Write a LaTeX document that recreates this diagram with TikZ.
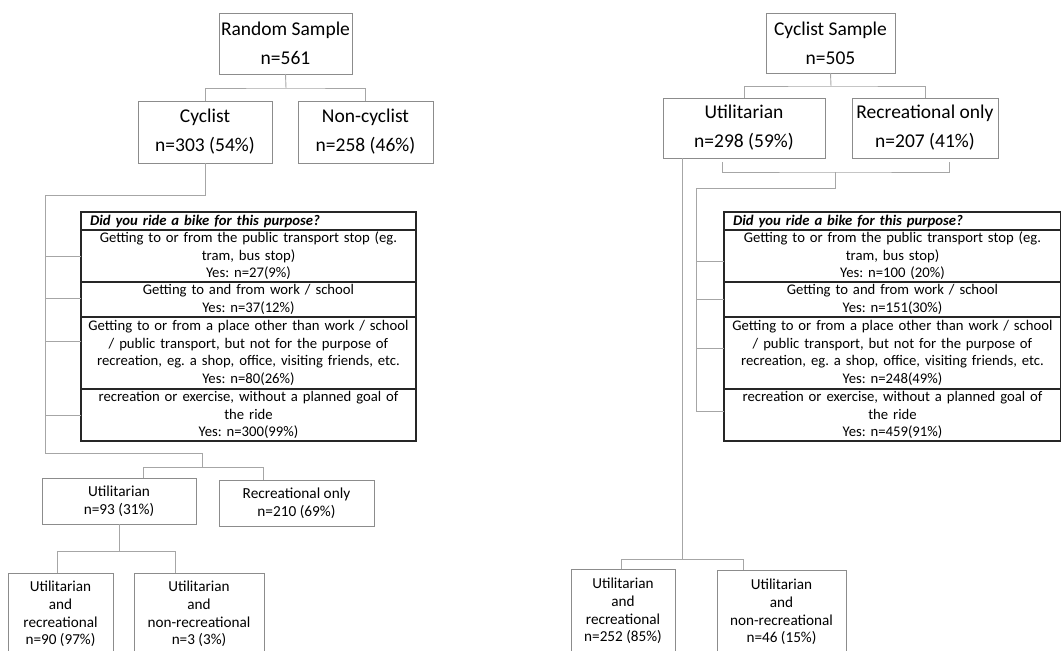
\documentclass[tikz,border=0pt]{standalone}
\usepackage{fontspec}
\setmainfont{Carlito}
\usetikzlibrary{positioning}
\frenchspacing
\tikzset{
    box/.style={rectangle, draw=black!45, line width=0.9pt, align=center, inner sep=0pt, outer sep=0pt},
    bigbox/.style={box, font=\fontsize{19.5}{29}\selectfont},
    smallbox/.style={box, font=\fontsize{15.3}{18}\selectfont},
    leafbox/.style={box, anchor=north, font=\fontsize{15.2}{17.7}\selectfont},
    cell/.style={rectangle, draw=black!85, line width=1.3pt, align=center, inner xsep=2pt, inner ysep=0pt, outer sep=0pt, minimum width=335pt, text width=331pt, font=\fontsize{14.7}{17.5}\selectfont},
    rcell/.style={cell, minimum width=337pt, text width=333pt},
    head/.style={align=left, minimum height=18pt, font=\fontsize{14.7}{17.5}\selectfont\bfseries\itshape},
    link/.style={draw=black!35, line width=0.9pt},
}

\begin{document}
\begin{tikzpicture}[x=1pt, y=-1pt]
    \useasboundingbox (0,0) rectangle (1061,651);
    \clip (0,0) rectangle (1061,651);

    % Random sample tree
    \node[bigbox, minimum width=133pt, minimum height=61pt] (rand) at (285.5,43.5) {Random Sample\\n=561};
    \node[bigbox, minimum width=134pt, minimum height=62pt] (cyc) at (205,132) {Cyclist\\n=303 (54\%)};
    \node[bigbox, minimum width=135pt, minimum height=62pt] (noncyc) at (365.5,132) {Non-cyclist\\n=258 (46\%)};

    % Purpose table (random sample)
    \node[cell, head, anchor=north west] (lq0) at (81,212) {\hspace*{7pt}Did you ride a bike for this purpose?};
    \node[cell, minimum height=52pt, below=0pt of lq0] (lq1) {Getting to or from the public transport stop (eg.\\tram, bus stop)\\Yes: n=27(9\%)};
    \node[cell, minimum height=35pt, below=0pt of lq1] (lq2) {Getting to and from work / school\\Yes: n=37(12\%)};
    \node[cell, minimum height=72pt, below=0pt of lq2] (lq3) {Getting to or from a place other than work / school\\/ public transport, but not for the purpose of\\recreation, eg. a shop, office, visiting friends, etc.\\Yes: n=80(26\%)};
    \node[cell, minimum height=52pt, below=0pt of lq3] (lq4) {recreation or exercise, without a planned goal of\\the ride\\Yes: n=300(99\%)};

    \node[smallbox, minimum width=154pt, minimum height=46pt] (luti) at (119,501) {Utilitarian\\n=93 (31\%)};
    \node[smallbox, minimum width=155pt, minimum height=46pt] (lrec) at (296.5,503) {Recreational only\\n=210 (69\%)};
    \node[leafbox, minimum width=105pt, minimum height=82pt] (lur) at (60.5,573) {Utilitarian\\and\\recreational\\n=90 (97\%)};
    \node[leafbox, minimum width=130pt, minimum height=82pt] (lnr) at (199,573) {Utilitarian\\and\\non-recreational\\n=3 (3\%)};

    % Cyclist sample tree
    \node[bigbox, minimum width=129pt, minimum height=60pt] (csamp) at (830.5,43) {Cyclist Sample\\n=505};
    \node[bigbox, minimum width=162pt, minimum height=60pt] (ruti) at (744,128) {Utilitarian\\n=298 (59\%)};
    \node[bigbox, minimum width=146pt, minimum height=60pt] (rrec) at (925,128) {Recreational only\\n=207 (41\%)};

    % Purpose table (cyclist sample)
    \node[rcell, head, anchor=north west] (rq0) at (724,212) {\hspace*{7pt}Did you ride a bike for this purpose?};
    \node[rcell, minimum height=52pt, below=0pt of rq0] (rq1) {Getting to or from the public transport stop (eg.\\tram, bus stop)\\Yes: n=100 (20\%)};
    \node[rcell, minimum height=35pt, below=0pt of rq1] (rq2) {Getting to and from work / school\\Yes: n=151(30\%)};
    \node[rcell, minimum height=72pt, below=0pt of rq2] (rq3) {Getting to or from a place other than work / school\\/ public transport, but not for the purpose of\\recreation, eg. a shop, office, visiting friends, etc.\\Yes: n=248(49\%)};
    \node[rcell, minimum height=52pt, below=0pt of rq3] (rq4) {recreation or exercise, without a planned goal of\\the ride\\Yes: n=459(91\%)};

    \node[leafbox, minimum width=104pt, minimum height=84pt] (rur) at (623,569) {Utilitarian\\and\\recreational\\n=252 (85\%)};
    \node[leafbox, minimum width=129pt, minimum height=84pt] (rnr) at (781.5,570) {Utilitarian\\and\\non-recreational\\n=46 (15\%)};

    % Connectors, left
    \coordinate (lbus) at (286,88);
    \coordinate (lspine) at (45,195);
    \coordinate (lfoot) at (45,453);
    \coordinate (lsplit) at (202,467);
    \coordinate (la) at (143,467);
    \coordinate (lb) at (263,467);
    \coordinate (lc) at (57,551);
    \coordinate (ld) at (175,551);
    \draw[link] (rand.south) -- (lbus);
    \draw[link] (cyc.north) |- (lbus) -| (noncyc.north);
    \draw[link] (cyc.south) |- (lspine) -- (lfoot) -| (lsplit);
    \foreach \r/\dy in {lq1/0, lq2/-1, lq3/-12, lq4/0}
        \draw[link] (\r.west) ++(0,\dy) -- +(-36,0);
    \draw[link] (luti.north -| la) |- (lb) -- (lb |- lrec.north);
    \draw[link] (luti.south) -- (luti.south |- ld);
    \draw[link] (lur.north -| lc) |- (ld) -- (ld |- lnr.north);

    % Connectors, right
    \coordinate (rbus) at (831,86);
    \coordinate (ra) at (722,162);
    \coordinate (rb) at (949,162);
    \coordinate (rmid) at (835,172);
    \coordinate (rspine) at (696,188);
    \coordinate (rspineend) at (696,412);
    \coordinate (rlong) at (682,559);
    \coordinate (rc) at (621,559);
    \coordinate (rd) at (743,559);
    \draw[link] (csamp.south) -- (rbus);
    \draw[link] (ruti.north) |- (rbus) -| (rrec.north);
    \draw[link] (ra) |- (rmid) -| (rb);
    \draw[link] (rmid) |- (rspine) -- (rspineend);
    \foreach \r/\dy in {rq1/5, rq2/0, rq3/-5, rq4/-4}
        \draw[link] (\r.west) ++(0,\dy) -- +(-28,0);
    \draw[link] (ruti.south -| rlong) -- (rlong);
    \draw[link] (rur.north -| rc) |- (rd) -- (rd |- rnr.north);
\end{tikzpicture}
\end{document}
